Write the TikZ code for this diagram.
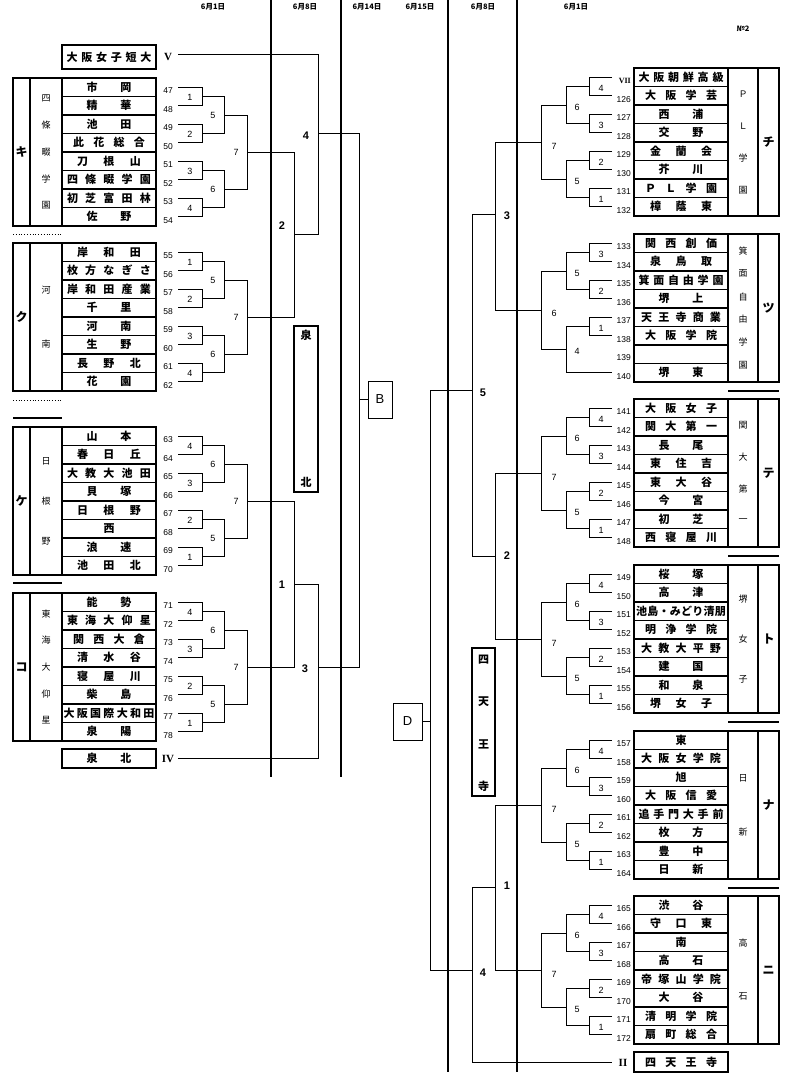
\documentclass[tikz,border=0pt]{standalone}
\usepackage{fontspec}
\newfontfamily\jpfont{Noto Sans CJK JP}
\newfontfamily\numfont{Liberation Sans}
\newfontfamily\romfont{Liberation Serif}
\usetikzlibrary{positioning}
\tikzset{
  team/.style   = {draw, line width=1.3bp, minimum width=94bp, minimum height=18.5bp,
                   inner sep=0pt, outer sep=0pt,
                   font=\jpfont\bfseries\fontsize{11bp}{11bp}\selectfont},
  frame/.style  = {line width=1.3bp},
  link/.style   = {line width=0.9bp},
  rule/.style   = {line width=2.4bp},
  sepline/.style= {line width=2bp},
  num/.style    = {inner sep=0pt, font=\numfont\fontsize{8.5bp}{9bp}\selectfont},
  rnd/.style    = {inner sep=0pt, font=\numfont\fontsize{9bp}{9bp}\selectfont},
  mid/.style    = {inner sep=0pt, font=\numfont\bfseries\fontsize{11bp}{11bp}\selectfont},
  grp/.style    = {inner sep=0pt, font=\jpfont\bfseries\fontsize{12bp}{12bp}\selectfont},
  sch/.style    = {inner sep=0pt, font=\jpfont\fontsize{9bp}{9bp}\selectfont},
  roman/.style  = {inner sep=0pt, font=\romfont\bfseries\fontsize{11bp}{11bp}\selectfont},
  date/.style   = {inner sep=0pt, font=\jpfont\bfseries\fontsize{7.5bp}{8bp}\selectfont},
  letterbox/.style = {draw, line width=0.9bp, inner sep=0pt, outer sep=0pt,
                   font=\numfont\fontsize{13bp}{13bp}\selectfont},
  vframe/.style = {draw, line width=2bp, inner sep=0pt, outer sep=0pt},
  vchar/.style  = {inner sep=0pt, font=\jpfont\bfseries\fontsize{11bp}{11bp}\selectfont},
}
\newcommand{\rmn}[1]{{\romfont\bfseries\fontsize{8bp}{8bp}\selectfont #1}}

% spread the characters of a name evenly over #1 bp
\newcommand{\spread}[2]{\hbox to #1bp{\expandafter\spreadchars#2\relax\relax}}
\def\spreadchars#1#2{#1\ifx\relax#2\else\hfil\expandafter\spreadchars\expandafter#2\fi}

% left block: #1 top, #2 prefix, #3 letter, #4 number of label chars, #5 label chars, #6 rows
\newcommand{\leftblock}[6]{%
  \draw[frame] (13,#1) rectangle (156,#1+148) (30,#1) -- (30,#1+148) (62,#1) -- (62,#1+148);
  \node[grp] (#2L) at (21.5,#1+74) {#3};
  \foreach \ch [count=\k] in {#5}
    \node[sch] (#2s\k) at (46,{#1+74+(\k-(#4+1)/2)*160/(#4+1)}) {\ch};
  \foreach \n/\w/\s [count=\k from 0] in {#6}{
    \node[team] (#2\k) at (109,#1+9.25+18.5*\k) {\spread{\w}{\s}};
    \node[num] (#2n\k) at (168,#1+13+18.5*\k) {\n};}}

% right block, mirrored
\newcommand{\rightblock}[6]{%
  \draw[frame] (634,#1) rectangle (779,#1+148) (728,#1) -- (728,#1+148) (758,#1) -- (758,#1+148);
  \node[grp] (#2L) at (768.5,#1+74) {#3};
  \foreach \ch [count=\k] in {#5}
    \node[sch] (#2s\k) at (743,{#1+74+(\k-(#4+1)/2)*160/(#4+1)}) {\ch};
  \foreach \n/\w/\s [count=\k from 0] in {#6}{
    \node[team] (#2\k) at (681,#1+9.25+18.5*\k) {\spread{\w}{\s}};
    \node[num, anchor=east] (#2n\k) at (631,#1+13+18.5*\k) {\n};}}

% left bracket of eight: #1 top, #2 output point, #3 first round, #4 second round
\newcommand{\lbrk}[4]{%
  \foreach \lab [count=\j from 0] in {#3}{
    \draw[link] (178,#1+9.25+37*\j) -| (202,#1+27.75+37*\j) -- (178,#1+27.75+37*\j);
    \node[rnd] (#2a\j) at (190,#1+19.5+37*\j) {\lab};}
  \foreach \lab [count=\i from 0] in {#4}{
    \draw[link] (202,#1+18.5+74*\i) -| (224,#1+55.5+74*\i) -- (202,#1+55.5+74*\i);
    \node[rnd] (#2b\i) at (213,#1+37+74*\i) {\lab};}
  \draw[link] (224,#1+37) -| (247,#1+111) -- (224,#1+111);
  \node[rnd] (#2c) at (236,#1+74.5) {7};
  \coordinate (#2) at (247,#1+74);}

% right bracket of eight
\newcommand{\rbrk}[2]{%
  \foreach \lab [count=\j from 0] in {4,3,2,1}{
    \draw[link] (612,#1+9.25+37*\j) -| (589,#1+27.75+37*\j) -- (612,#1+27.75+37*\j);
    \node[rnd] (#2a\j) at (601,#1+20.5+37*\j) {\lab};}
  \foreach \lab [count=\i from 0] in {6,5}{
    \draw[link] (589,#1+18.5+74*\i) -| (566,#1+55.5+74*\i) -- (589,#1+55.5+74*\i);
    \node[rnd] (#2b\i) at (577,#1+39+74*\i) {\lab};}
  \draw[link] (566,#1+37) -| (541,#1+111) -- (566,#1+111);
  \node[rnd] (#2c) at (554,#1+78) {7};
  \coordinate (#2) at (541,#1+74);}

\begin{document}
\begin{tikzpicture}[x=1bp, y=-1bp]
  \useasboundingbox (0,0) rectangle (800,1078);

  % --- dates and sheet number ---
  \node[date] (dl1) at (213,7) {6月1日};
  \node[date] (dl2) at (305,7) {6月8日};
  \node[date] (dl3) at (367,7) {6月14日};
  \node[date] (dr3) at (420,7) {6月15日};
  \node[date] (dr2) at (483,7) {6月8日};
  \node[date] (dr1) at (576,7) {6月1日};
  \node[date] (sheet) at (743,29) {№2};

  % --- day rules ---
  \draw[rule] (271,0) -- (271,777);
  \draw[rule] (341,0) -- (341,777);
  \draw[rule] (448,0) -- (448,1072);
  \draw[rule] (517,0) -- (517,1072);

  % --- left blocks ---
  \node[team, minimum height=24bp] (tandai) at (109,57) {\spread{85}{大阪女子短大}};
  \node[roman] (rV) at (168,57) {V};

  \leftblock{78}{ki}{キ}{5}{四,條,畷,学,園}{47/45/市岡, 48/45/精華, 49/45/池田,
    50/72/此花総合, 51/64/刀根山, 52/84/四條畷学園, 53/84/初芝富田林, 54/45/佐野}
  \lbrk{78}{kiOut}{1,2,3,4}{5,6}

  \leftblock{243}{ku}{ク}{2}{河,南}{55/64/岸和田, 56/84/枚方なぎさ, 57/84/岸和田産業,
    58/45/千里, 59/45/河南, 60/45/生野, 61/64/長野北, 62/45/花園}
  \lbrk{243}{kuOut}{1,2,3,4}{5,6}

  \leftblock{427}{ke}{ケ}{3}{日,根,野}{63/45/山本, 64/64/春日丘, 65/84/大教大池田,
    66/45/貝塚, 67/64/日根野, 68/11/西, 69/45/浪速, 70/64/池田北}
  \lbrk{427}{keOut}{4,3,2,1}{6,5}

  \leftblock{593}{ko}{コ}{5}{東,海,大,仰,星}{71/45/能勢, 72/84/東海大仰星, 73/72/関西大倉,
    74/64/清水谷, 75/64/寝屋川, 76/45/柴島, 77/91/大阪国際大和田, 78/45/泉陽}
  \lbrk{593}{koOut}{4,3,2,1}{6,5}

  \node[team, minimum height=19bp] (senhoku) at (109,758.5) {\spread{45}{泉北}};
  \node[roman] (rIV) at (168,759) {IV};

  \draw[dotted, line width=0.8bp] (13,234) -- (62,234);
  \draw[dotted, line width=0.8bp] (13,400) -- (62,400);
  \draw[sepline] (13,418) -- (62,418);
  \draw[sepline] (13,583) -- (62,583);

  % --- left final rounds ---
  \draw[link] (kiOut) -| (294,317) -- (kuOut);
  \draw[link] (294,234) -| (318,54) -- (178,54);
  \draw[link] (keOut) -| (294,667) -- (koOut);
  \draw[link] (294,584) -| (318,758) -- (178,758);
  \draw[link] (318,133) -| (359,667) -- (318,667);
  \node[mid] (lm2) at (282,226) {2};
  \node[mid] (lm4) at (306,136) {4};
  \node[mid] (lm1) at (282,585) {1};
  \node[mid] (lm3) at (305,669) {3};

  \node[vframe, minimum width=24bp, minimum height=166bp] (senboku) at (306,409) {};
  \node[vchar, below=4bp of senboku.north] (sen1) {泉};
  \node[vchar, above=4bp of senboku.south] (sen2) {北};

  \node[letterbox, minimum width=24bp, minimum height=37bp] (bbox) at (380,399.5) {B};
  \draw[link] (359,399.5) -- (bbox.west);

  % --- right blocks ---
  \rightblock{68}{chi}{チ}{4}{Ｐ,Ｌ,学,園}{\rmn{VII}/85/大阪朝鮮高級, 126/72/大阪学芸, 127/45/西浦,
    128/45/交野, 129/62/金蘭会, 130/45/芥川, 131/72/ＰＬ学園, 132/62/樟蔭東}
  \rbrk{68}{chiOut}

  \rightblock{234}{tsu}{ツ}{6}{箕,面,自,由,学,園}{133/72/関西創価, 134/62/泉鳥取, 135/85/箕面自由学園,
    136/45/堺上, 137/80/天王寺商業, 138/72/大阪学院, 139/11/{}, 140/45/堺東}
  % 139 is empty: 140 goes straight into the second round
  \draw[link] (612,243.25) -| (589,261.75) -- (612,261.75);
  \draw[link] (612,280.25) -| (589,298.75) -- (612,298.75);
  \draw[link] (612,317.25) -| (589,335.75) -- (612,335.75);
  \draw[link] (589,252.5) -| (566,289.5) -- (589,289.5);
  \draw[link] (589,326.5) -| (566,372.75) -- (612,372.75);
  \draw[link] (566,271) -| (541,349.6) -- (566,349.6);
  \coordinate (tsuOut) at (541,310.3);
  \node[rnd] (tsua0) at (601,254.5) {3};
  \node[rnd] (tsua1) at (601,291.5) {2};
  \node[rnd] (tsua2) at (601,328.5) {1};
  \node[rnd] (tsub0) at (577,273) {5};
  \node[rnd] (tsub1) at (577,351) {4};
  \node[rnd] (tsuc) at (554,313) {6};

  \rightblock{399}{te}{テ}{4}{関,大,第,一}{141/72/大阪女子, 142/72/関大第一, 143/45/長尾,
    144/62/東住吉, 145/62/東大谷, 146/45/今宮, 147/45/初芝, 148/72/西寝屋川}
  \rbrk{399}{teOut}

  \rightblock{565}{to}{ト}{3}{堺,女,子}{149/45/桜塚, 150/45/高津, 151/90/池島・みどり清朋,
    152/72/明浄学院, 153/80/大教大平野, 154/45/建国, 155/45/和泉, 156/62/堺女子}
  \rbrk{565}{toOut}

  \rightblock{731}{na}{ナ}{2}{日,新}{157/11/東, 158/80/大阪女学院, 159/11/旭,
    160/72/大阪信愛, 161/85/追手門大手前, 162/45/枚方, 163/45/豊中, 164/45/日新}
  \rbrk{731}{naOut}

  \rightblock{896}{ni}{ニ}{2}{高,石}{165/45/渋谷, 166/62/守口東, 167/11/南,
    168/45/高石, 169/80/帝塚山学院, 170/45/大谷, 171/72/清明学院, 172/72/扇町総合}
  \rbrk{896}{niOut}

  \node[team, minimum height=20bp] (shitenno) at (681,1062) {\spread{72}{四天王寺}};
  \node[roman] (rII) at (623,1063) {II};

  \foreach \yy in {391,556,722,888}
    \draw[sepline] (728,\yy) -- (779,\yy);

  % --- right final rounds ---
  \draw[link] (chiOut) -| (495,310.3) -- (tsuOut);
  \draw[link] (teOut) -| (495,639) -- (toOut);
  \draw[link] (naOut) -| (495,970) -- (niOut);
  \draw[link] (495,214) -| (472,556) -- (495,556);
  \draw[link] (495,887) -| (472,1062) -- (612,1062);
  \draw[link] (472,390) -| (430,970) -- (472,970);
  \node[mid] (rm3) at (507,216) {3};
  \node[mid] (rm2) at (507,556) {2};
  \node[mid] (rm1) at (507,886) {1};
  \node[mid] (rm5) at (483,393) {5};
  \node[mid] (rm4) at (483,973) {4};

  \node[vframe, minimum width=23bp, minimum height=148bp] (shitenbox) at (483.5,722) {};
  \foreach \ch [count=\k from 0] in {四,天,王,寺}
    \node[vchar] (sh\k) at (483.5,660+42*\k) {\ch};

  \node[letterbox, minimum width=29bp, minimum height=37bp] (dbox) at (407.5,721.5) {D};
  \draw[link] (dbox.east) -- (430,721.5);

\end{tikzpicture}
\end{document}
